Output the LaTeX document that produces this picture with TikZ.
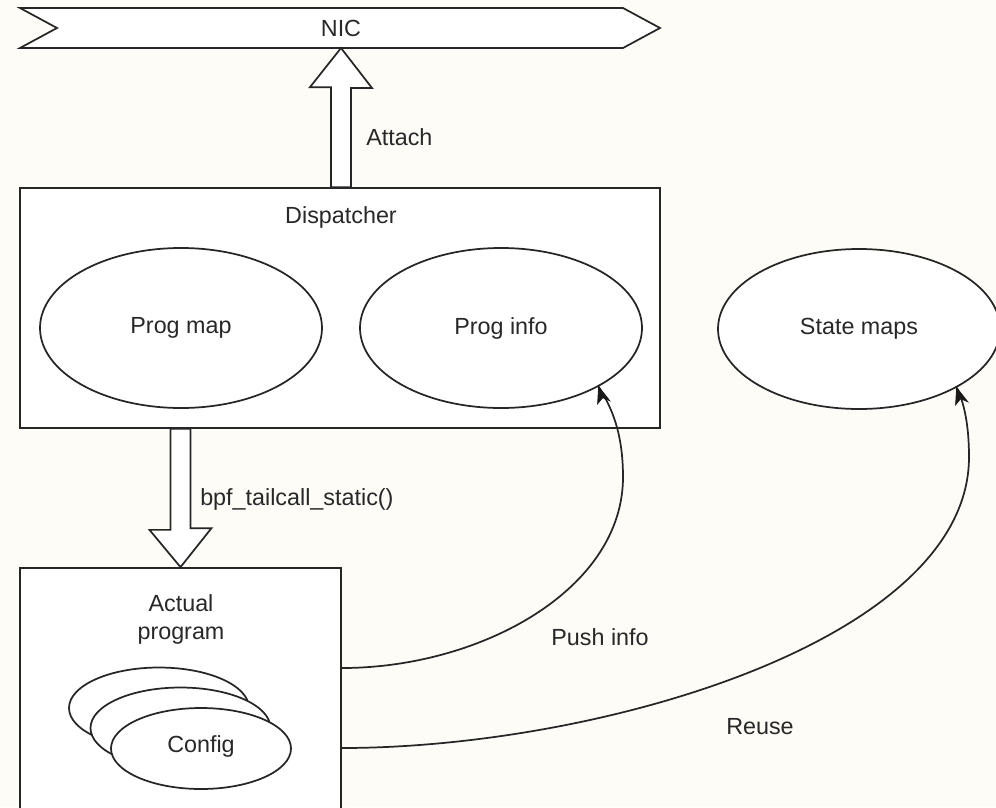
\documentclass[tikz,border=0pt]{standalone}
\usepackage{fontspec}
\setmainfont{Liberation Sans}
\usetikzlibrary{arrows.meta,shapes.geometric}
\definecolor{bgc}{RGB}{253,252,246}
\definecolor{txt}{RGB}{40,40,40}
\tikzset{
  shapeline/.style={draw=black!85, line width=1.3pt, fill=white},
  lbl/.style={text=txt, font=\fontsize{17.5}{21}\selectfont, inner sep=0pt, align=center},
  oval/.style={shapeline, ellipse, inner sep=0pt, minimum width=211.5pt, minimum height=120pt},
  cfg/.style={shapeline, ellipse, inner sep=0pt, minimum width=135pt, minimum height=60.75pt},
  box/.style={shapeline, rectangle, inner sep=0pt},
  blockarrow/.style={shapeline, line join=miter},
  curveline/.style={draw=black!85, line width=1.3pt},
  tiphead/.style={fill=black!90, draw=black!90, line width=0.6pt, line join=miter}
}
\begin{document}
\begin{tikzpicture}[x=0.75pt,y=-0.75pt]
\useasboundingbox (0,0) rectangle (996,807);
\fill[bgc] (0,0) rectangle (996,807);
\begin{scope}
\clip (0,0) rectangle (996,807);
% NIC step shape
\coordinate (nicbase) at (341,48);
\draw[shapeline, line join=miter] (20,8) -- (623,8) -- (660,28) -- (623,48) -- (20,48) -- (57,28) -- cycle;
\node[lbl] (nic) at (341,28) {NIC};
% Dispatcher
\node[box, minimum width=480pt, minimum height=180pt] (disp) at (340,308) {};
\node[lbl] (displbl) at (341,217) {Dispatcher};
\node[oval] (pmap) at (181,328) {};
\node[lbl] at (pmap.center) {Prog map};
\node[oval] (pinfo) at (501,328) {};
\node[lbl] at (pinfo.center) {Prog info};
\node[oval] (smaps) at (859,329) {};
\node[lbl] at (smaps.center) {State maps};
% Actual program
\node[box, minimum width=240.75pt, minimum height=196.5pt] (actual) at (180.5,699) {};
\node[lbl] (actlbl) at (181,619) {Actual\\program};
\node[cfg] (cfg1) at (159,708) {};
\node[cfg] (cfg2) at (180.5,728) {};
\node[cfg] (cfg3) at (201,748.5) {};
\node[lbl] at (201,746) {Config};
% Attach block arrow (disp top -> NIC bottom)
\draw[blockarrow] ([xshift=-7.5pt]disp.north -| nicbase) -- ++(0,-100) -- ++(-21,0) -- (nicbase) -- ++(31,40) -- ++(-21,0) -- ([xshift=7.5pt]disp.north -| nicbase) -- cycle;
\node[lbl, anchor=west] (attach) at (366,137) {Attach};
% bpf_tailcall block arrow (disp bottom -> actual top)
\draw[blockarrow] ([xshift=-7.5pt]disp.south -| actual.north) -- ++(0,101) -- ++(-21,0) -- (actual.north) -- ++(31,-39) -- ++(-21,0) -- ([xshift=7.5pt]disp.south -| actual.north) -- cycle;
\node[lbl, anchor=west] (tail) at (200,499) {bpf\_tailcall\_static()};
% curved connectors, node to node, with filled notched tips drawn on their ends
\draw[curveline] ([yshift=23.25pt]actual.east) .. controls (480,668) and (623,590) .. (623,477) .. controls (623,425) and (607,401) .. (pinfo.-31);
\fill[tiphead] (pinfo.-31) -- ++(-1,17) -- ++(5,-6) -- ++(7,3) -- cycle;
\node[lbl] (push) at (600,637) {Push info};
\draw[curveline] ([yshift=-36.75pt]actual.east) .. controls (600,748) and (969,640) .. (969,457) .. controls (969,425) and (964,402) .. (smaps.-31);
\fill[tiphead] (smaps.-31) -- ++(-1,17) -- ++(5,-6) -- ++(7,3) -- cycle;
\node[lbl] (reuse) at (760,727) {Reuse};
\end{scope}
\end{tikzpicture}
\end{document}
